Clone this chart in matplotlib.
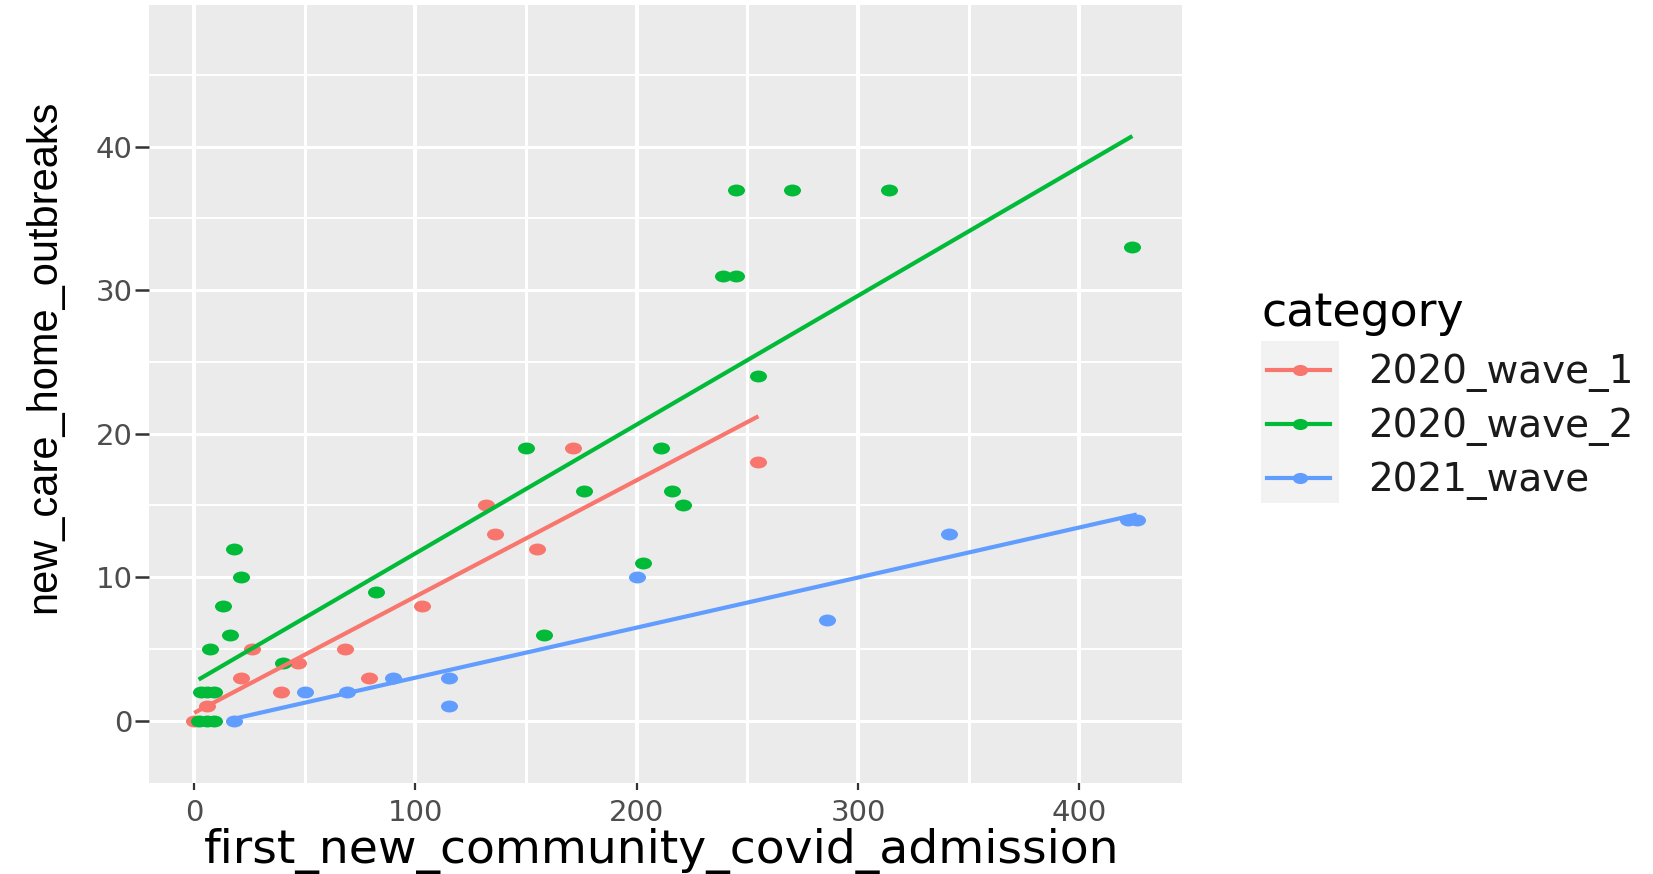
import numpy as np
import matplotlib
matplotlib.use("Agg")
import matplotlib.pyplot as plt
from matplotlib.path import Path
from matplotlib.markers import MarkerStyle
from matplotlib.transforms import Affine2D
from matplotlib.lines import Line2D
from matplotlib.patches import Rectangle
from matplotlib.ticker import MultipleLocator, FixedLocator

# ---- data -------------------------------------------------------------
categories = ["2020_wave_1", "2020_wave_2", "2021_wave"]
colors = ["#F8766D", "#00BA38", "#619CFF"]

wave1_x = [0, 6, 21, 26, 39, 47, 68, 79, 103, 132, 136, 155, 171, 255]
wave1_y = [0, 1, 3, 5, 2, 4, 5, 3, 8, 15, 13, 12, 19, 18]

wave2_x = [2, 6, 9, 3, 6, 9, 7, 13, 16, 18, 21, 40, 82, 150, 158, 176, 203,
           211, 216, 221, 239, 245, 245, 255, 270, 314, 424]
wave2_y = [0, 0, 0, 2, 2, 2, 5, 8, 6, 12, 10, 4, 9, 19, 6, 16, 11, 19, 16,
           15, 31, 31, 37, 24, 37, 37, 33]

wave2021_x = [18, 50, 69, 90, 115, 115, 200, 286, 341, 422, 426]
wave2021_y = [0, 2, 2, 3, 3, 1, 10, 7, 13, 14, 14]

x_ticks = [0, 100, 200, 300, 400]
y_ticks = [0, 10, 20, 30, 40]

x_title = "first_new_community_covid_admission"
y_title = "new_care_home_outbreaks"
legend_title = "category"

series = [(wave1_x, wave1_y), (wave2_x, wave2_y), (wave2021_x, wave2021_y)]

# ---- figure -----------------------------------------------------------
W, H = 1653, 874
fig = plt.figure(figsize=(W / 100, H / 100), dpi=100)
fig.patch.set_facecolor("white")


def fx(px):
    return px / W


def fy(py):
    return 1 - py / H


left, right, top, bottom = 149.3, 1181.7, 5.3, 783.3
ax = fig.add_axes([fx(left), fy(bottom), fx(right - left), (bottom - top) / H])
ax.set_facecolor("#EBEBEB")
for s in ax.spines.values():
    s.set_visible(False)

ax.set_xlim(-20.3, 446.3)
ax.set_ylim(-4.36, 49.85)

ax.xaxis.set_major_locator(FixedLocator(x_ticks))
ax.yaxis.set_major_locator(FixedLocator(y_ticks))
ax.xaxis.set_minor_locator(MultipleLocator(50))
ax.yaxis.set_minor_locator(MultipleLocator(5))
ax.set_xticklabels([str(v) for v in x_ticks], family="DejaVu Sans")
ax.set_yticklabels([str(v) for v in y_ticks], family="DejaVu Sans")

ax.grid(axis="x", which="major", color="white", lw=2.9)
ax.grid(axis="x", which="minor", color="white", lw=2.2)
ax.grid(axis="y", which="major", color="white", lw=2.2)
ax.grid(axis="y", which="minor", color="white", lw=1.4)
ax.set_axisbelow(True)

ax.tick_params(axis="x", which="major", length=5, width=1.6, color="#333333",
               pad=6, labelsize=21, labelcolor="#4D4D4D")
ax.tick_params(axis="y", which="major", length=10, width=1.8, color="#333333",
               pad=2, labelsize=21, labelcolor="#4D4D4D")
ax.tick_params(which="minor", length=0)

# slightly wide oval points
oval = MarkerStyle(Path.unit_circle().transformed(Affine2D().scale(1.0, 0.7)))

for (xs, ys), col in zip(series, colors):
    ax.scatter(xs, ys, s=150, marker=oval, color=col, linewidths=0, zorder=2)

# least-squares trend per category
for (xs, ys), col in zip(series, colors):
    xs_a = np.asarray(xs, float)
    ys_a = np.asarray(ys, float)
    slope, intercept = np.polyfit(xs_a, ys_a, 1)
    xx = np.linspace(xs_a.min(), xs_a.max(), 80)
    ax.plot(xx, intercept + slope * xx, color=col, lw=3.0, zorder=3,
            solid_capstyle="butt")

# axis titles
fig.text(fx(662), fy(851), x_title, ha="center", va="center",
         fontsize=34, family="DejaVu Sans", color="black")
fig.text(fx(44), fy(356), y_title, ha="center", va="center", rotation=90,
         fontsize=30, family="Liberation Sans", color="black")

# legend
fig.text(fx(1261), fy(314), legend_title, ha="left", va="center",
         fontsize=33, family="DejaVu Sans", color="black")
fig.add_artist(Rectangle((fx(1260.7), fy(502.7)), fx(1339.3 - 1260.7),
                         (502.7 - 341) / H, transform=fig.transFigure,
                         facecolor="#F2F2F2", edgecolor="none"))
key_y = [370, 424, 478]
for cat, col, ky in zip(categories, colors, key_y):
    fig.add_artist(Line2D([fx(1266.7), fx(1330)], [fy(ky), fy(ky)],
                          transform=fig.transFigure, color=col, lw=3.0))
    fig.add_artist(Line2D([fx(1300)], [fy(ky)], transform=fig.transFigure,
                          marker=oval, markersize=10, color=col, lw=0))
    fig.text(fx(1368), fy(ky + 3), cat, ha="left", va="center",
             fontsize=28, family="DejaVu Sans", color="#1A1A1A")

fig.savefig("out.png", dpi=100, facecolor="white")
